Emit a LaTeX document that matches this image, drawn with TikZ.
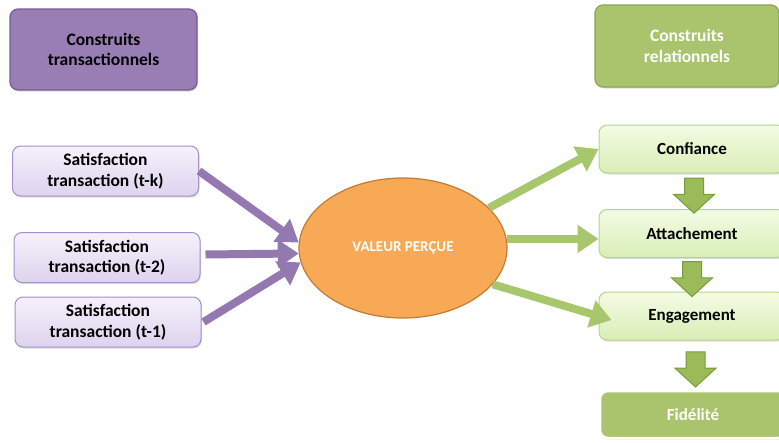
\documentclass[tikz,border=0pt]{standalone}
\usepackage{fontspec}
\setmainfont{Carlito}
\usetikzlibrary{arrows.meta, calc, positioning, shapes.geometric, shapes.arrows, shadows}
\definecolor{violetTitre}{HTML}{987EB4}
\definecolor{violetBord}{HTML}{765C94}
\definecolor{lavandeHaut}{HTML}{F5F1FB}
\definecolor{lavandeBas}{HTML}{DDD3EE}
\definecolor{lavandeBord}{HTML}{A68FC8}
\definecolor{violetFleche}{HTML}{9479B1}
\definecolor{orangeVal}{HTML}{F8A955}
\definecolor{orangeBord}{HTML}{C27A34}
\definecolor{vertTitre}{HTML}{A9C46C}
\definecolor{vertBord}{HTML}{8AA650}
\definecolor{vertClairHaut}{HTML}{F3FBE4}
\definecolor{vertClairBas}{HTML}{D9EEB6}
\definecolor{vertClairBord}{HTML}{B6D485}
\definecolor{vertFleche}{HTML}{A8C66B}
\definecolor{vertBloc}{HTML}{9BBB59}
\definecolor{vertBlocBord}{HTML}{7A9A40}
\tikzset{
	block/.style={
		rectangle, rounded corners=8pt,
		align=center, inner sep=0pt,
		font=\fontsize{17.5}{20.5}\selectfont\bfseries,
		drop shadow={opacity=0.25,shadow xshift=1pt,shadow yshift=-1.5pt}
	},
	titre trans/.style={block, fill=violetTitre, draw=violetBord, line width=1.2pt,
		minimum width=187pt, minimum height=81pt, text=black},
	titre rel/.style={block, fill=vertTitre, draw=vertBord, line width=1.2pt,
		minimum width=184pt, minimum height=82pt, text=white},
	satis/.style={block, top color=lavandeHaut, bottom color=lavandeBas, draw=lavandeBord,
		line width=1pt, minimum width=186pt, minimum height=50pt},
	relat/.style={block, top color=vertClairHaut, bottom color=vertClairBas, draw=vertClairBord,
		line width=1pt, minimum width=186pt, minimum height=48pt,
		font=\fontsize{17}{20}\selectfont\bfseries},
	fidel/.style={block, fill=vertTitre, draw=white, line width=2.5pt,
		minimum width=186pt, minimum height=47pt, text=white,
		font=\fontsize{17}{20}\selectfont\bfseries},
	valeur/.style={ellipse, fill=orangeVal, draw=orangeBord, line width=1.2pt,
		minimum width=208pt, minimum height=140pt, inner sep=0pt, text=white,
		font=\fontsize{15}{18}\selectfont\bfseries},
	fleche trans/.style={line width=8pt, violetFleche, -{Triangle[length=21pt,width=27pt]}},
	fleche rel/.style={line width=8pt, vertFleche, -{Triangle[length=21pt,width=27pt]}},
	bas/.style={single arrow, shape border rotate=270, fill=vertBloc, draw=vertBlocBord,
		line width=1pt, inner sep=9pt, single arrow head extend=11pt,
		single arrow tip angle=95, minimum height=35pt}
}
\begin{document}
\begin{tikzpicture}[x=1pt,y=-1pt]
	\useasboundingbox (0,0) rectangle (779,442);
	% titres
	\node[titre trans]	(trans)	at (103.5,49.5)	{Construits\\transactionnels};
	\node[titre rel]	(rel)	at (687,46)		{Construits\\relationnels};
	% satisfactions
	\node[satis]	(tk)	at (105.5,171)	{Satisfaction\\transaction (t-k)};
	\node[satis]	(t2)	at (107,257.5)	{Satisfaction\\transaction (t-2)};
	\node[satis]	(t1)	at (108,322)	{Satisfaction\\transaction (t-1)};
	\node[valeur]	(val)	at (403,248)	{VALEUR PERÇUE};
	% construits relationnels
	\node[relat]	(conf)	at (692,149)	{Confiance};
	\node[relat]	(att)	at (692,233.5)	{Attachement};
	\node[relat]	(eng)	at (692,316)	{Engagement};
	\node[fidel]	(fid)	at (693,414.5)	{Fidélité};
	\draw[fleche trans]	(tk.east)				-- (val.177);
	\draw[fleche trans]	($(t2.east)+(5,-3)$)	-- (val.183);
	\draw[fleche trans]	($(t1.east)+(2,0)$)		-- (val.188);
	\draw[fleche rel]	(val.25)	-- (conf.west);
	\draw[fleche rel]	(val.5)		-- (val.5 -| att.west);
	\draw[fleche rel]	(val.338)	-- ($(eng.west)+(13,4)$);
	\node[bas]	(b1)	at ($(conf.south)!0.5!(att.north)+(2,0)$)	{};
	\node[bas]	(b2)	at ($(att.south)!0.5!(eng.north)+(0,0)$)	{};
	\node[bas]	(b3)	at ($(eng.south)!0.5!(fid.north)+(3,0)$)	{};
\end{tikzpicture}
\end{document}
